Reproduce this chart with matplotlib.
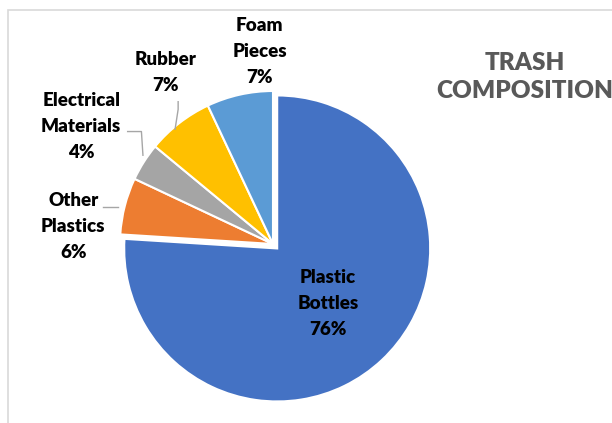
import numpy as np
import matplotlib
matplotlib.use("Agg")
import matplotlib.pyplot as plt
from matplotlib.patches import Rectangle

categories = ["Plastic\nBottles", "Other\nPlastics", "Electrical\nMaterials", "Rubber", "Foam\nPieces"]
shares = [76, 6, 4, 7, 7]
colors = ["#4472C4", "#ED7D31", "#A5A5A5", "#FFC000", "#5B9BD5"]

# label placement (radius in pie units, angle in degrees) for the outside labels
label_pos = [(0.53, -47.5), (1.31, 175), (1.47, 148.5), (1.32, 122), (1.26, 94)]

W, H = 612, 423
R = 153.0           # pie radius in pixels
cx, cy = 273, 423 - 244

plt.rcParams["font.family"] = ["Lato", "DejaVu Sans"]
fig = plt.figure(figsize=(W / 100, H / 100), dpi=100)
fig.patches.append(Rectangle((8 / W, -0.1), 1.2, (H - 10) / H + 0.1, transform=fig.transFigure,
                             fill=False, edgecolor="#D9D9D9", linewidth=1.2))

ax = fig.add_axes([0, 0, 1, 1])
ax.axis("off")

wedges, _ = ax.pie(shares, colors=colors, startangle=90, counterclock=False,
                   explode=[0.04, 0, 0, 0, 0], radius=1.0,
                   wedgeprops=dict(edgecolor="white", linewidth=1.5))
ax.set_xlim(-cx / R, (W - cx) / R)
ax.set_ylim(-cy / R, (H - cy) / R)
ax.set_aspect("auto")

for i, (name, val) in enumerate(zip(categories, shares)):
    r, ang = label_pos[i]
    x, y = r * np.cos(np.radians(ang)), r * np.sin(np.radians(ang))
    ax.text(x, y, f"{name}\n{val}%", ha="center", va="center", fontsize=13.5,
            fontweight="heavy", color="black", linespacing=1.65)

# leader lines
leaders = [
    [(-0.62, 0.93), (-0.62, 0.88), (-0.64, 0.75)],      # rubber
    [(-0.95, 0.735), (-0.86, 0.735), (-0.85, 0.58)],    # electrical
    [(-1.11, 0.24), (-1.03, 0.24), (-1.01, 0.24)],      # other plastics
]
for pts in leaders:
    xs, ys = zip(*pts)
    ax.plot(xs, ys, color="#A6A6A6", linewidth=1)

fig.text(525 / W, 1 - 77 / H, "TRASH\nCOMPOSITION", ha="center", va="center",
         fontsize=17.5, fontweight="heavy", color="#595959", linespacing=1.3)

fig.savefig("out.png", dpi=100)
